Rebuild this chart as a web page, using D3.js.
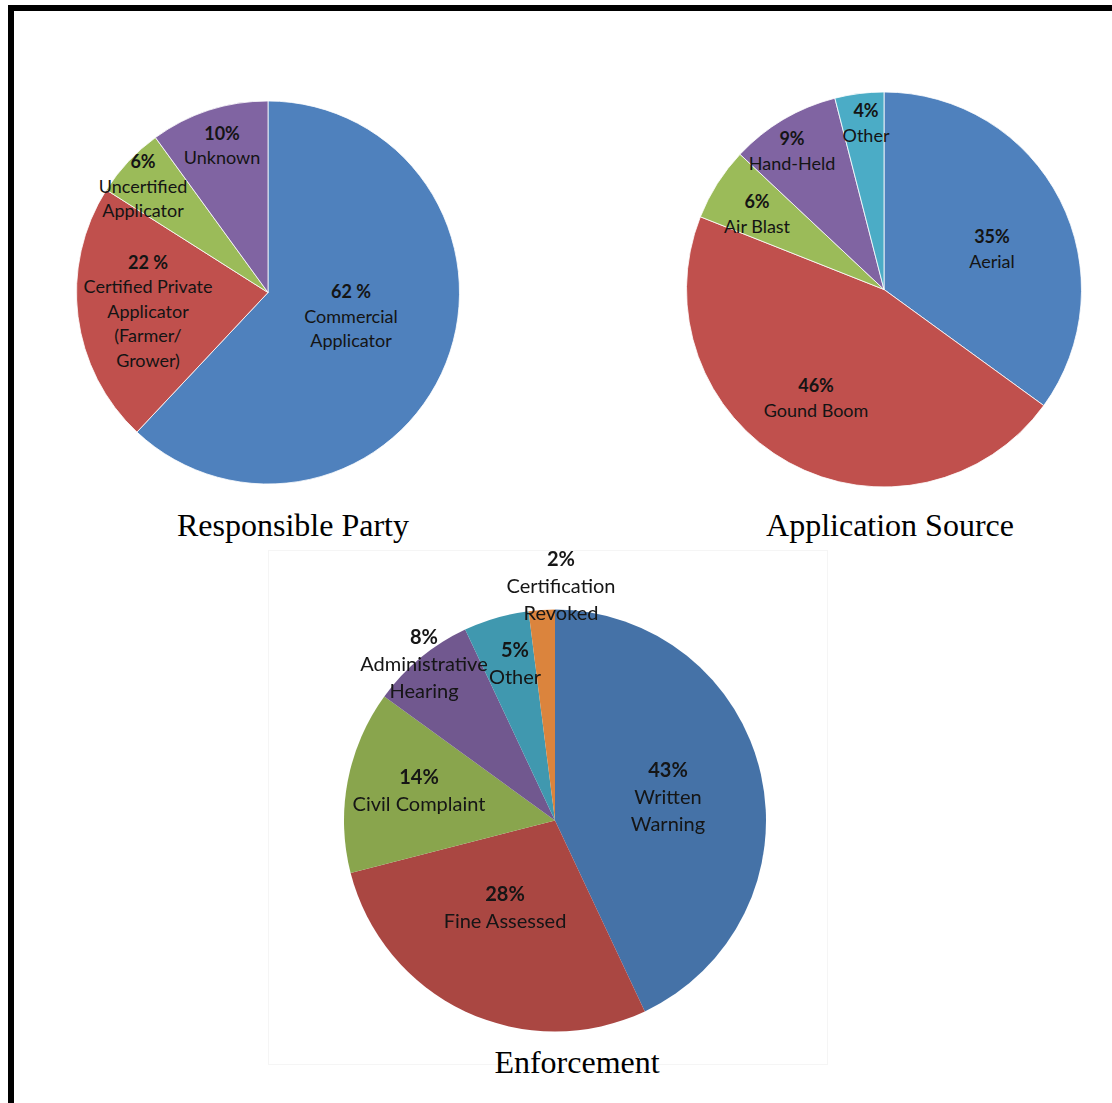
<!DOCTYPE html>
<html>
<head>
<meta charset="utf-8">
<script src="https://cdn.jsdelivr.net/npm/d3@7"></script>
<style>
  html, body { margin: 0; padding: 0; background: #fff; }
  svg { display: block; }
</style>
</head>
<body>
<svg id="chart" width="1112" height="1103"></svg>
<script>
// ---- Responsible Party ----
const partyCategories = ["Commercial Applicator", "Certified Private Applicator (Farmer/ Grower)", "Uncertified Applicator", "Unknown"];
const partyLabelLines = [["Commercial", "Applicator"], ["Certified Private", "Applicator", "(Farmer/", "Grower)"], ["Uncertified", "Applicator"], ["Unknown"]];
const partyValues = [62, 22, 6, 10];
const partyPctText = ["62 %", "22 %", "6%", "10%"];

// ---- Application Source ----
const sourceCategories = ["Aerial", "Gound Boom", "Air Blast", "Hand-Held", "Other"];
const sourceLabelLines = [["Aerial"], ["Gound Boom"], ["Air Blast"], ["Hand-Held"], ["Other"]];
const sourceValues = [35, 46, 6, 9, 4];
const sourcePctText = ["35%", "46%", "6%", "9%", "4%"];

// ---- Enforcement ----
const enforceCategories = ["Written Warning", "Fine Assessed", "Civil Complaint", "Administrative Hearing", "Other", "Certification Revoked"];
const enforceLabelLines = [["Written", "Warning"], ["Fine Assessed"], ["Civil Complaint"], ["Administrative", "Hearing"], ["Other"], ["Certification", "Revoked"]];
const enforceValues = [43, 28, 14, 8, 5, 2];
const enforcePctText = ["43%", "28%", "14%", "8%", "5%", "2%"];

// ---- palettes ----
const officeColors = ["#4F81BD", "#C0504D", "#9BBB59", "#8064A2", "#4BACC6"];
const enforceColors = ["#4572A7", "#AA4643", "#89A54E", "#71588F", "#4198AF", "#DB843D"];

const svg = d3.select("#chart");

// outer frame (runs off the right and bottom edges)
svg.append("rect")
  .attr("x", 11).attr("y", 8)
  .attr("width", 1200).attr("height", 1200)
  .attr("fill", "none").attr("stroke", "#000").attr("stroke-width", 6);

// faint backdrop behind the enforcement pie
svg.append("rect")
  .attr("x", 268.5).attr("y", 550.5)
  .attr("width", 559).attr("height", 514)
  .attr("fill", "#fff").attr("stroke", "#f5f5f5").attr("stroke-width", 1);

const defs = svg.append("defs");
defs.append("filter").attr("id", "soft")
  .append("feGaussianBlur").attr("stdDeviation", 0.5);

function drawPie(cfg) {
  const g = svg.append("g")
    .attr("transform", `translate(${cfg.cx},${cfg.cy})`);
  if (cfg.soft) g.attr("filter", "url(#soft)");

  const pie = d3.pie().sort(null).value(d => d.value);
  const arc = d3.arc().innerRadius(0).outerRadius(cfg.r);
  const color = d3.scaleOrdinal().domain(cfg.categories).range(cfg.colors);

  const rows = cfg.categories.map((c, i) => ({
    name: c, value: cfg.values[i], pct: cfg.pct[i], lines: cfg.lines[i], spot: cfg.spots[i]
  }));
  const arcs = pie(rows);

  g.selectAll("path.slice")
    .data(arcs)
    .join("path")
    .attr("class", "slice")
    .attr("d", arc)
    .attr("fill", d => color(d.data.name))
    .attr("stroke", cfg.edge)
    .attr("stroke-width", cfg.edgeWidth);

  const labels = g.selectAll("text.lbl")
    .data(arcs)
    .join("text")
    .attr("class", "lbl")
    .attr("font-family", "Lato, 'Open Sans', sans-serif")
    .attr("font-size", cfg.fontSize)
    .attr("fill", "#141414")
    .attr("text-anchor", "middle");

  labels.each(function (d) {
    const t = d3.select(this);
    const all = [d.data.pct].concat(d.data.lines);
    const n = all.length;
    const [sx, sy] = d.data.spot;
    all.forEach((line, k) => {
      t.append("tspan")
        .attr("x", sx)
        .attr("y", sy + (k - (n - 1) / 2) * cfg.lineGap)
        .attr("dy", "0.35em")
        .attr("font-weight", k === 0 ? "bold" : "normal")
        .text(line);
    });
  });

  svg.append("text")
    .attr("x", cfg.titleX).attr("y", cfg.titleY)
    .attr("text-anchor", "middle")
    .attr("font-family", "'Liberation Serif', 'Times New Roman', serif")
    .attr("font-size", 32)
    .attr("fill", "#000")
    .text(cfg.title);
}

drawPie({
  title: "Responsible Party", titleX: 293, titleY: 536,
  cx: 268, cy: 292.5, r: 191.5,
  categories: partyCategories, values: partyValues, pct: partyPctText, lines: partyLabelLines,
  colors: officeColors.slice(0, 4),
  spots: [[83, 24], [-120, 19], [-125, -106], [-46, -147]],
  fontSize: 18, lineGap: 24.5, edge: "#fff", edgeWidth: 0.8
});

drawPie({
  title: "Application Source", titleX: 890, titleY: 536,
  cx: 884, cy: 289.5, r: 197.5,
  categories: sourceCategories, values: sourceValues, pct: sourcePctText, lines: sourceLabelLines,
  colors: officeColors,
  spots: [[108, -40], [-68, 109], [-127, -75], [-92, -138], [-18, -166]],
  fontSize: 18, lineGap: 25, edge: "#fff", edgeWidth: 0.8
});

drawPie({
  title: "Enforcement", titleX: 577, titleY: 1073,
  cx: 555, cy: 820.5, r: 211,
  categories: enforceCategories, values: enforceValues, pct: enforcePctText, lines: enforceLabelLines,
  colors: enforceColors,
  spots: [[113, -24], [-50, 87], [-136, -30], [-131, -157], [-40, -157], [6, -235]],
  fontSize: 20, lineGap: 27, edge: "none", edgeWidth: 0, soft: true
});
</script>
</body>
</html>
